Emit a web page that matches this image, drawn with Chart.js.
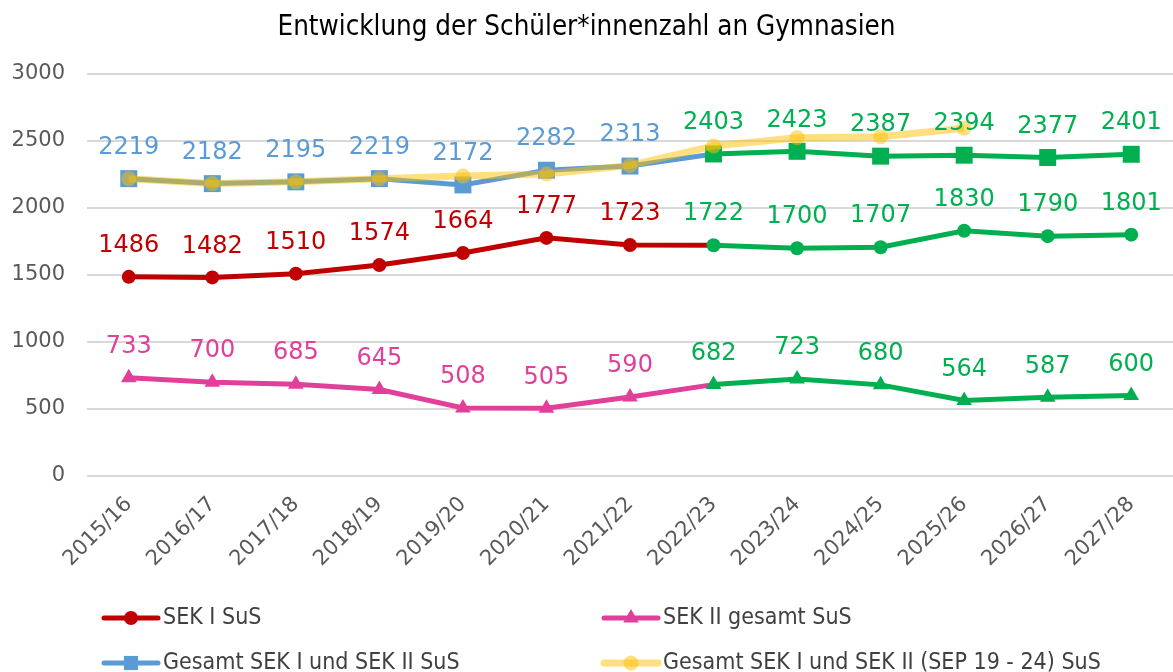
<!DOCTYPE html>
<html>
<head>
<meta charset="utf-8">
<script src="https://cdn.jsdelivr.net/npm/chart.js@4.4.0/dist/chart.umd.min.js"></script>
<style>
  html, body { margin: 0; padding: 0; background: #fff; }
</style>
</head>
<body>
<canvas id="chart" width="1173" height="672"></canvas>
<script>
// school years on the x axis
const years = ['2015/16', '2016/17', '2017/18', '2018/19', '2019/20', '2020/21', '2021/22',
  '2022/23', '2023/24', '2024/25', '2025/26', '2026/27', '2027/28'];
// from this index on the values are a forecast (drawn green)
const forecastStart = 7;

const sek1 = [1486, 1482, 1510, 1574, 1664, 1777, 1723, 1722, 1700, 1707, 1830, 1790, 1801];
const sek2 = [733, 700, 685, 645, 508, 505, 590, 682, 723, 680, 564, 587, 600];
const total = [2219, 2182, 2195, 2219, 2172, 2282, 2313, 2403, 2423, 2387, 2394, 2377, 2401];
const totalSep = [2219, 2182, 2195, 2219, 2238, 2254, 2318, 2463, 2525, 2532, 2595, null, null];

const yTicks = [0, 500, 1000, 1500, 2000, 2500, 3000];

const RED = '#C00000';
const PINK = '#E0409A';
const BLUE = '#5B9BD5';
const YELLOW = 'rgba(255, 192, 0, 0.5)';
const GREEN = '#00B050';

const labelFont = '"DejaVu Sans", sans-serif';
const narrowFont = '"Liberation Sans Narrow", "DejaVu Sans Condensed", "Liberation Sans", sans-serif';

const byIndex = (base) => years.map((_, i) => i >= forecastStart ? GREEN : base);
const segColor = (base) => (ctx) => ctx.p0DataIndex >= forecastStart ? GREEN : base;

// value labels above points (not for the SEP series)
const valueLabels = {
  id: 'valueLabels',
  afterDatasetsDraw(chart) {
    const ctx = chart.ctx;
    ctx.save();
    ctx.font = '24px ' + labelFont;
    ctx.textAlign = 'center';
    ctx.textBaseline = 'middle';
    chart.data.datasets.forEach((ds, i) => {
      if (!ds.valueColor) return;
      const meta = chart.getDatasetMeta(i);
      meta.data.forEach((pt, j) => {
        const v = ds.data[j];
        if (v == null) return;
        ctx.fillStyle = j >= forecastStart ? GREEN : ds.valueColor;
        ctx.fillText(String(v), pt.x, pt.y - 31);
      });
    });
    ctx.restore();
  }
};

// two-column legend at the bottom
const bottomLegend = {
  id: 'bottomLegend',
  afterDraw(chart) {
    const ctx = chart.ctx;
    const cols = [104, 604];
    const rows = [chart.height - 54, chart.height - 9];
    const items = [0, 1, 2, 3].map(i => chart.data.datasets[i]);
    ctx.save();
    items.forEach((ds, k) => {
      const x = cols[k % 2];
      const y = rows[Math.floor(k / 2)];
      ctx.strokeStyle = ds.legendColor;
      ctx.lineWidth = ds.borderWidth;
      ctx.lineCap = 'round';
      ctx.beginPath();
      ctx.moveTo(x, y);
      ctx.lineTo(x + 54, y);
      ctx.stroke();
      ctx.fillStyle = ds.legendColor;
      Chart.helpers.drawPoint(ctx, {
        pointStyle: ds.pointStyle,
        radius: ds.legendRadius,
        rotation: 0,
        borderWidth: 0
      }, x + 27, y);
      ctx.fillStyle = '#404040';
      ctx.font = '23px ' + narrowFont;
      ctx.textAlign = 'left';
      ctx.textBaseline = 'middle';
      ctx.fillText(ds.label, x + 59, y);
    });
    ctx.restore();
  }
};

new Chart(document.getElementById('chart'), {
  type: 'line',
  data: {
    labels: years,
    datasets: [
      {
        label: 'SEK I SuS',
        data: sek1,
        borderColor: RED,
        legendColor: RED,
        valueColor: RED,
        borderWidth: 5,
        segment: { borderColor: segColor(RED) },
        pointStyle: 'circle',
        pointRadius: 7,
        legendRadius: 7,
        pointBackgroundColor: byIndex(RED),
        pointBorderWidth: 0,
        order: 1
      },
      {
        label: 'SEK II gesamt SuS',
        data: sek2,
        borderColor: PINK,
        legendColor: PINK,
        valueColor: PINK,
        borderWidth: 5,
        segment: { borderColor: segColor(PINK) },
        pointStyle: 'triangle',
        pointRadius: 9,
        legendRadius: 9,
        pointBackgroundColor: byIndex(PINK),
        pointBorderWidth: 0,
        order: 1
      },
      {
        label: 'Gesamt SEK I und SEK II SuS',
        data: total,
        borderColor: BLUE,
        legendColor: BLUE,
        valueColor: BLUE,
        borderWidth: 5,
        segment: { borderColor: segColor(BLUE) },
        pointStyle: 'rect',
        pointRadius: 12,
        legendRadius: 10,
        pointBackgroundColor: byIndex(BLUE),
        pointBorderWidth: 0,
        order: 1
      },
      {
        label: 'Gesamt SEK I und SEK II (SEP 19 - 24) SuS',
        data: totalSep,
        borderColor: YELLOW,
        legendColor: YELLOW,
        borderWidth: 7,
        pointStyle: 'circle',
        pointRadius: 7.5,
        legendRadius: 7.5,
        pointBackgroundColor: YELLOW,
        pointBorderWidth: 0,
        order: 0
      }
    ]
  },
  options: {
    responsive: false,
    animation: false,
    layout: { autoPadding: false, padding: { left: 0, right: 0, top: 0, bottom: 92.5 } },
    plugins: {
      legend: { display: false },
      tooltip: { enabled: false },
      title: {
        display: true,
        text: 'Entwicklung der Schüler*innenzahl an Gymnasien',
        color: '#000',
        font: { family: narrowFont, size: 27.5, weight: 'normal' },
        padding: { top: 11, bottom: 30 }
      }
    },
    scales: {
      x: {
        offset: true,
        grid: { display: false },
        border: { display: false },
        ticks: {
          color: '#595959',
          font: { family: labelFont, size: 21 },
          maxRotation: 45,
          minRotation: 45,
          padding: 8
        },
        afterFit: (s) => { s.paddingLeft = 0; s.paddingRight = 0; }
      },
      y: {
        min: 0,
        max: 3000,
        afterBuildTicks: (axis) => { axis.ticks = yTicks.map(v => ({ value: v })); },
        afterFit: (axis) => { axis.width = 87; },
        grid: { color: '#D9D9D9', lineWidth: 2, drawTicks: false },
        border: { display: false },
        ticks: {
          color: '#595959',
          font: { family: labelFont, size: 21 },
          padding: 22,
          callback: (v) => String(v)
        }
      }
    }
  },
  plugins: [valueLabels, bottomLegend]
});
</script>
</body>
</html>
